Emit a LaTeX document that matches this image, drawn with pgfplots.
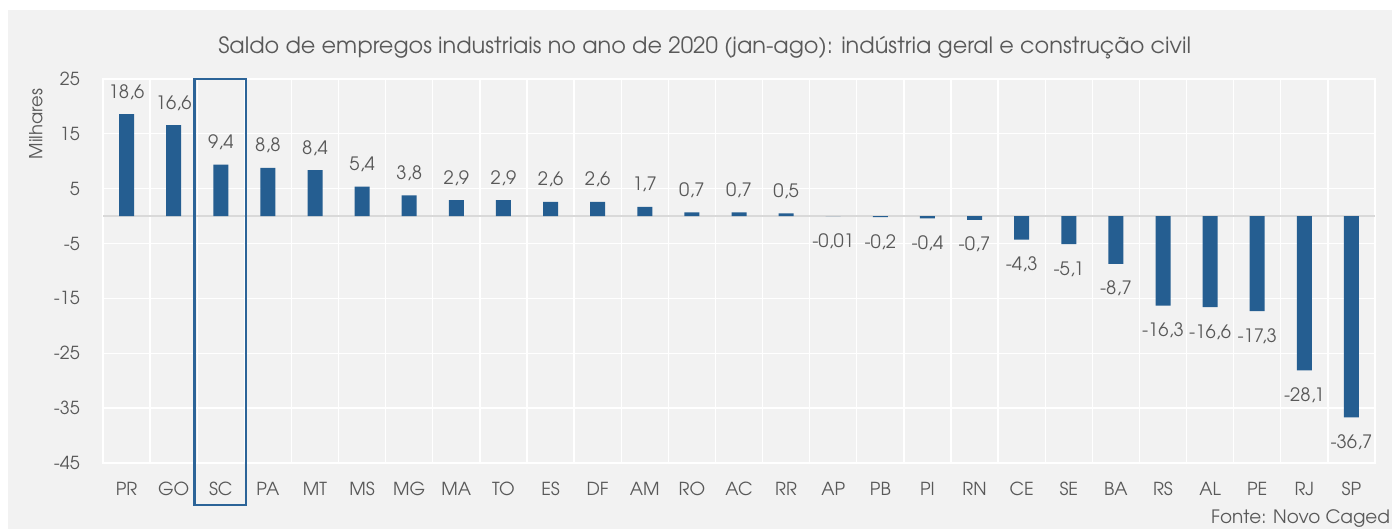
\documentclass[border=0pt]{standalone}
\usepackage{fontspec}
\setmainfont{texgyreadventor-regular.otf}
\usepackage{pgfplots}
\pgfplotsset{compat=1.18}
\usepackage{pgfplotstable}
\definecolor{barblue}{RGB}{37,94,145}
\definecolor{boxblue}{RGB}{44,100,152}
\definecolor{panel}{RGB}{242,242,242}
\definecolor{txt}{RGB}{89,89,89}
\definecolor{zeroline}{RGB}{217,217,217}

\pgfplotstableread{
x y lab
0 18.6 18,6
1 16.6 16,6
2 9.4 9,4
3 8.8 8,8
4 8.4 8,4
5 5.4 5,4
6 3.8 3,8
7 2.9 2,9
8 2.9 2,9
9 2.6 2,6
10 2.6 2,6
11 1.7 1,7
12 0.7 0,7
13 0.7 0,7
14 0.5 0,5
}\datapos

\pgfplotstableread{
x y lab
15 -0.01 -0,01
16 -0.2 -0,2
17 -0.4 -0,4
18 -0.7 -0,7
19 -4.3 -4,3
20 -5.1 -5,1
21 -8.7 -8,7
22 -16.3 -16,3
23 -16.6 -16,6
24 -17.3 -17,3
25 -28.1 -28,1
26 -36.7 -36,7
}\dataneg

\begin{document}
\begin{tikzpicture}[x=1bp,y=1bp]
\useasboundingbox (0,0) rectangle (1392,529);
\fill[white] (0,0) rectangle (1392,529);
\fill[panel] (8,0) rectangle (1400,519);
\begin{axis}[
  at={(103bp,66bp)}, anchor=south west,
  scale only axis, width=1272bp, height=384bp,
  xmin=-0.5, xmax=26.5, ymin=-45, ymax=25,
  ybar, bar width=15bp,
  xtick={0,...,26},
  xticklabels={PR,GO,SC,PA,MT,MS,MG,MA,TO,ES,DF,AM,RO,AC,RR,AP,PB,PI,RN,CE,SE,BA,RS,AL,PE,RJ,SP},
  ytick={-45,-35,-25,-15,-5,5,15,25},
  yticklabels={-45,-35,-25,-15,-5,5,15,25},
  minor xtick={-0.5,0.5,...,26.5},
  xminorgrids=true, ymajorgrids=true,
  major grid style={white, line width=1.3bp},
  minor grid style={white, line width=1.3bp},
  major tick length=0pt, minor tick length=0pt,
  axis line style={white, line width=1.3bp},
  extra y ticks={0}, extra y tick labels={},
  extra y tick style={grid=major, major grid style={zeroline, line width=2bp}},
  tick label style={font=\fontsize{18}{21}\selectfont, text=txt},
  xticklabel style={anchor=base, yshift=-33bp, inner sep=0pt},
  yticklabel style={anchor=east, xshift=-23bp, inner sep=0pt},
  every axis title shift=0pt,
  title={Saldo de empregos industriais no ano de 2020 (jan-ago): indústria geral e construção civil},
  title style={at={(axis description cs:0.473,1.0669)}, anchor=base, inner sep=0pt, font=\fontsize{22.5}{26}\selectfont, text=txt},
  ylabel={Milhares},
  ylabel style={at={(axis description cs:-0.0527,0.883)}, anchor=center, font=\fontsize{18}{21}\selectfont, text=txt},
  clip=false,
]
\addplot[fill=barblue, draw=none, bar shift=0pt, nodes near coords, point meta=explicit symbolic,
  every node near coord/.append style={anchor=base, yshift=16bp, font=\fontsize{18.5}{21}\selectfont, text=txt}]
  table[x=x, y=y, meta=lab]{\datapos};
\addplot[fill=barblue, draw=none, bar shift=0pt, nodes near coords, point meta=explicit symbolic,
  every node near coord/.append style={anchor=base, yshift=-31bp, font=\fontsize{18.5}{21}\selectfont, text=txt}]
  table[x=x, y=y, meta=lab]{\dataneg};
\draw[boxblue, line width=2.5bp] (axis cs:1.438,25) rectangle (axis cs:2.535,-52.65);
\end{axis}
\node[anchor=west, inner sep=0pt, font=\fontsize{18.5}{21}\selectfont, text=txt] at (1211,10) {Fonte: Novo Caged};
\end{tikzpicture}
\end{document}
